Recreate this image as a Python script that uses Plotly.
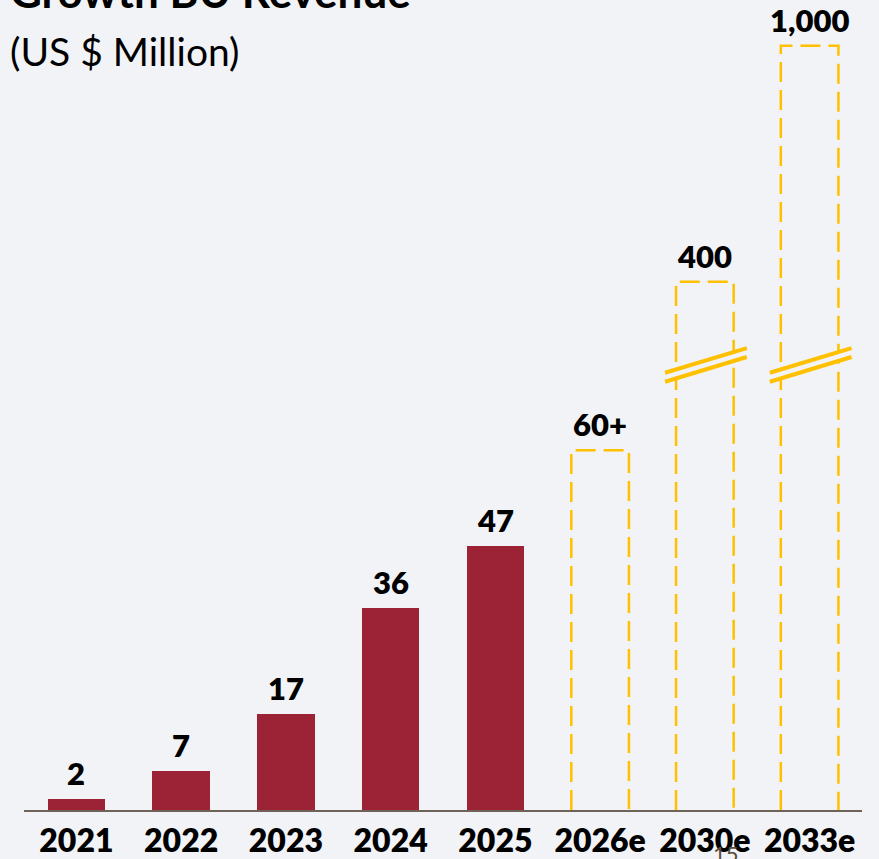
import plotly.graph_objects as go

# ---- data ----
categories = ["2021", "2022", "2023", "2024", "2025", "2026e", "2030e", "2033e"]
actual_values = [2, 7, 17, 36, 47]                # reported revenue (US$ M)
estimate_labels = ["60+", "400", "1,000"]         # targets
estimate_values = [60, 400, 1000]
# heights at which the estimate bars are drawn (axis is broken for 2030e/2033e)
estimate_drawn = [64, 94, 136]
broken = [False, True, True]

# ---- style ----
BG = "#F2F3F6"
RED = "#9B2335"
GOLD = "#FFC000"
FONT = "Lato"
BAR_W = 0.55
PX_PER_UNIT = 5.62

n_act = len(actual_values)
x_act = list(range(n_act))
x_est = list(range(n_act, len(categories)))

fig = go.Figure()

fig.add_trace(go.Bar(x=x_act, y=actual_values, width=BAR_W,
                     marker=dict(color=RED, line=dict(width=0)),
                     hoverinfo="skip", showlegend=False))

# dashed outline bars for estimates
for xi, h in zip(x_est, estimate_drawn):
    x0, x1 = xi - BAR_W / 2, xi + BAR_W / 2
    fig.add_trace(go.Scatter(x=[x0, x0, x1, x1], y=[0, h, h, 0], mode="lines",
                             line=dict(color=GOLD, width=2.5, dash="20px,8px"),
                             hoverinfo="skip", showlegend=False))

# axis-break marks
for xi, h, b in zip(x_est, estimate_drawn, broken):
    if not b:
        continue
    xl, xr = xi - 0.38, xi + 0.40
    up = (77.8, 82.2)
    lo = (76.2, 80.6)
    fig.add_trace(go.Scatter(x=[xl, xr, xr, xl, xl], y=[up[0], up[1], lo[1], lo[0], up[0]],
                             mode="lines", fill="toself", fillcolor=BG,
                             line=dict(width=0, color=BG), hoverinfo="skip", showlegend=False))
    for yy in (up, lo):
        fig.add_trace(go.Scatter(x=[xl, xr], y=list(yy), mode="lines",
                                 line=dict(color=GOLD, width=4),
                                 hoverinfo="skip", showlegend=False))

# value labels
labels = [str(v) for v in actual_values] + estimate_labels
heights = actual_values + estimate_drawn
for xi, (lab, h) in enumerate(zip(labels, heights)):
    fig.add_annotation(x=xi, y=h, text=lab, showarrow=False, xref="x", yref="y",
                       yanchor="middle", yshift=26,
                       font=dict(family=FONT, size=31, color="#000000", weight=800))

H = 859
TOP, BOT = 30, 49
plot_h = H - TOP - BOT

def py(px):
    return (H - BOT - px) / plot_h

def pxr(px):
    return (px - 24) / (879 - 24 - 17)

fig.add_annotation(x=pxr(8), y=py(19), xref="paper", yref="paper", text="<b>Growth BU Revenue</b>",
                   showarrow=False, xanchor="left", yanchor="bottom",
                   font=dict(family=FONT, size=44, color="#000000"))
fig.add_annotation(x=pxr(8), y=py(51), xref="paper", yref="paper", text="(US $ Million)",
                   showarrow=False, xanchor="left", yanchor="middle",
                   font=dict(family=FONT, size=39, color="#000000"))
fig.add_annotation(x=pxr(711), y=py(838), xref="paper", yref="paper", text="15",
                   showarrow=False, xanchor="left", yanchor="top",
                   font=dict(family=FONT, size=22, color="#5A4A3A"))

fig.update_layout(
    width=879, height=H,
    margin=dict(l=24, r=17, t=TOP, b=BOT),
    paper_bgcolor=BG, plot_bgcolor=BG,
    bargap=0,
    xaxis=dict(range=[-0.5, len(categories) - 0.5], tickmode="array",
               tickvals=list(range(len(categories))), ticktext=categories,
               showgrid=False, zeroline=False, showline=True, linecolor="#6E6259", linewidth=2,
               ticks="", ticklabelstandoff=2,
               tickfont=dict(family=FONT, size=32, color="#000000", weight=800),
               automargin=False, fixedrange=True),
    yaxis=dict(range=[0, plot_h / PX_PER_UNIT], visible=False, fixedrange=True),
    showlegend=False,
)

fig.write_html("out.html", config={"displayModeBar": False},
               post_script="document.body.style.margin='0';document.body.style.background='" + BG + "';")
